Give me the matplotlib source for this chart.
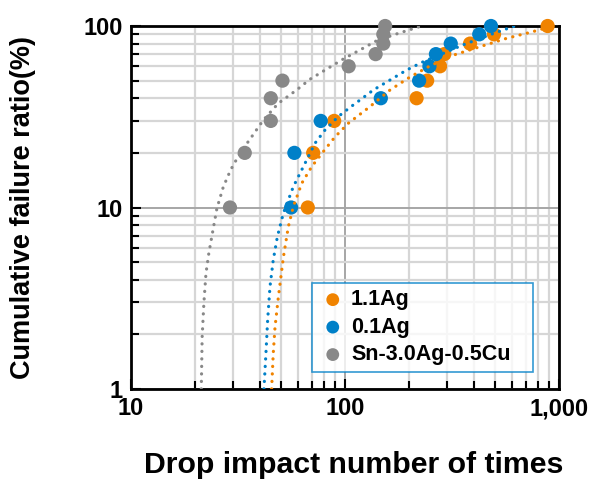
import matplotlib
matplotlib.use("Agg")
import matplotlib.pyplot as plt
from matplotlib.ticker import FixedLocator, NullFormatter, LogLocator

plt.rcParams['font.family'] = ['Liberation Sans', 'DejaVu Sans']

# failure ratio steps (%)
ratio = [10, 20, 30, 40, 50, 60, 70, 80, 90, 100]

# drop counts
drops_11ag = [67, 71, 89, 216, 242, 278, 291, 384, 497, 885]
drops_01ag = [56, 58, 77, 147, 222, 248, 266, 312, 424, 481]
drops_sac = [29, 34, 45, 45, 51, 104, 139, 151, 151, 154]

# dotted fit curves (x, %)
fit_11ag_x = [45.4, 46.2, 47.1, 48.8, 51.5, 54.3, 57.3, 62.8, 69.9, 77.8, 89.8, 103.6,
              130.9, 162.3, 201, 249, 320, 427, 569, 740, 880]
fit_11ag_y = [1.0, 1.57, 2.2, 3.2, 5.3, 7.8, 10.1, 13.6, 16.8, 19.8, 24.5, 29.1,
              36, 44.4, 52.3, 60.2, 69, 76.9, 85.5, 92.5, 98]
fit_01ag_x = [41.8, 42.7, 43.5, 44.6, 46.2, 48.3, 51.5, 57.3, 65.0, 72.4, 80.6, 93,
              107.5, 117.5, 135.6, 162.3, 194.2, 232.3, 288, 355, 511, 622]
fit_01ag_y = [1.0, 1.57, 2.4, 3.66, 5.14, 6.9, 9.3, 13.0, 17.5, 22.6, 26.7, 31.7,
              36.2, 39.1, 44.4, 50.4, 57.2, 63.6, 70.7, 78.6, 92.3, 100]
fit_sac_x = [21.3, 21.5, 21.9, 22.4, 23.1, 24.0, 25.2, 27.0, 29.2, 32.3, 36.6, 41.5,
             48.8, 59.4, 68.6, 98.2, 117.5, 140.6, 177.4, 228]
fit_sac_y = [1.0, 1.94, 2.97, 4.34, 5.6, 7.2, 9.9, 13.0, 16.1, 19.9, 24.5, 30.3,
             37.5, 44.4, 50.9, 65.8, 73.8, 83.0, 91.1, 100]

x_ticks = [10, 100, 1000]
x_tick_labels = ['10', '100', '1,000']
y_ticks = [1, 10, 100]
y_tick_labels = ['1', '10', '100']

orange = '#F08300'
blue = '#0080C8'
gray = '#888888'

fig = plt.figure(figsize=(6.08, 4.79), dpi=100)
ax = fig.add_axes([0.2155, 0.1879, 0.9194 - 0.2155, 0.9457 - 0.1879])
ax.set_xscale('log')
ax.set_yscale('log')
ax.set_xlim(10, 1000)
ax.set_ylim(1, 100)

series = [
    (drops_11ag, fit_11ag_x, fit_11ag_y, orange, '1.1Ag'),
    (drops_01ag, fit_01ag_x, fit_01ag_y, blue, '0.1Ag'),
    (drops_sac, fit_sac_x, fit_sac_y, gray, 'Sn-3.0Ag-0.5Cu'),
]
for drops, fx, fy, col, name in series:
    ax.scatter(drops, ratio, s=105, color=col, edgecolors='none', zorder=3,
               label=name, clip_on=False)
for drops, fx, fy, col, name in series:
    ax.plot(fx, fy, color=col, lw=2.3, linestyle=(0, (0.05, 2.3)),
            dash_capstyle='round', zorder=4)

ax.xaxis.set_major_locator(FixedLocator(x_ticks))
ax.yaxis.set_major_locator(FixedLocator(y_ticks))
ax.xaxis.set_minor_locator(LogLocator(base=10, subs=range(2, 10)))
ax.yaxis.set_minor_locator(LogLocator(base=10, subs=range(2, 10)))
ax.xaxis.set_minor_formatter(NullFormatter())
ax.yaxis.set_minor_formatter(NullFormatter())
ax.set_xticklabels(x_tick_labels)
ax.set_yticklabels(y_tick_labels)

ax.grid(True, which='minor', color='#d6d6d6', lw=1.6, zorder=0)
ax.grid(True, which='major', color='#a6a6a6', lw=1.4, zorder=0)
ax.set_axisbelow(True)

ax.tick_params(which='both', direction='in', color='black', width=1.5,
               top=False, right=False)
ax.tick_params(which='major', length=7, labelsize=17, pad=6)
ax.tick_params(which='minor', length=6)
for lab in ax.get_xticklabels() + ax.get_yticklabels():
    lab.set_fontweight('bold')
for sp in ax.spines.values():
    sp.set_linewidth(2)
    sp.set_color('black')

ax.set_xlabel('Drop impact number of times', fontsize=21.8, fontweight='bold')
ax.xaxis.set_label_coords(0.521, -0.172)
ax.set_ylabel('Cumulative failure ratio(%)', fontsize=19.5, fontweight='bold')
ax.yaxis.set_label_coords(-0.222, 0.5)

leg = ax.legend(loc='lower left', bbox_to_anchor=(0.4236, 0.0477, 0.515, 0.248),
                mode='expand', prop={'size': 15.5, 'weight': 'bold'},
                frameon=True, fancybox=False,
                handletextpad=0.2, borderpad=0.3, labelspacing=0.3,
                handlelength=1.3, markerscale=0.9, borderaxespad=0)
leg.get_frame().set_edgecolor(blue)
leg.get_frame().set_linewidth(1.2)
leg.set_zorder(5)

fig.savefig('out.png', dpi=100)
